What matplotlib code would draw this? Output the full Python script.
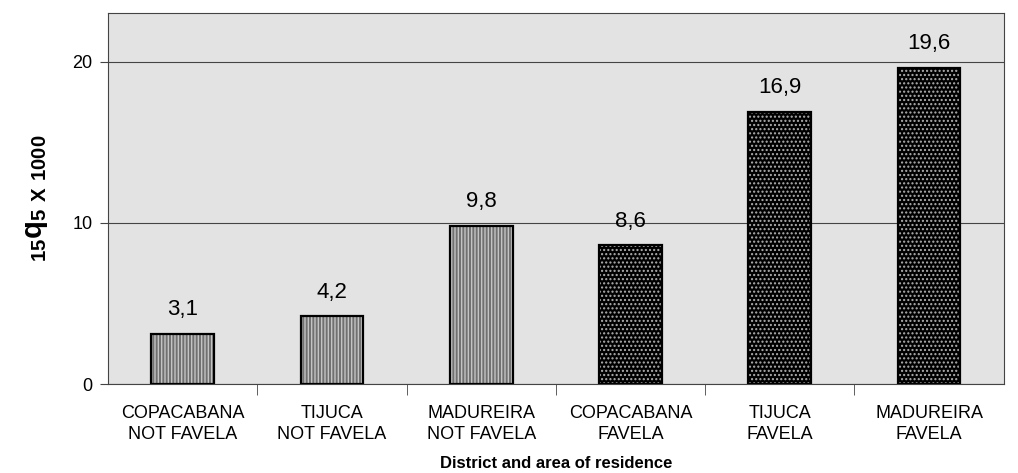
import matplotlib
matplotlib.use("Agg")
from matplotlib import pyplot as plt
import numpy as np

plt.rcParams['font.family'] = ['Liberation Sans', 'DejaVu Sans']
plt.rcParams['mathtext.fontset'] = 'custom'
plt.rcParams['mathtext.rm'] = 'Liberation Sans'
plt.rcParams['mathtext.bf'] = 'Liberation Sans:bold'

categories = ['COPACABANA\nNOT FAVELA', 'TIJUCA\nNOT FAVELA', 'MADUREIRA\nNOT FAVELA',
              'COPACABANA\nFAVELA', 'TIJUCA\nFAVELA', 'MADUREIRA\nFAVELA']
values = [3.1, 4.2, 9.8, 8.6, 16.9, 19.6]
favela = [False, False, False, True, True, True]

fig, ax = plt.subplots(figsize=(10.18, 4.73), dpi=100)
fig.subplots_adjust(left=0.106, right=0.986, top=0.972, bottom=0.188)
ax.set_facecolor('#e3e3e3')

x = np.arange(len(categories))
width = 0.42
for xi, v, fav in zip(x, values, favela):
    if fav:
        ax.bar(xi, v, width, color='black', hatch='....', edgecolor='#b0b0b0', linewidth=0, zorder=2)
    else:
        ax.bar(xi, v, width, color='#707070', hatch='|||||', edgecolor='#c4c4c4', linewidth=0, zorder=2)
    ax.bar(xi, v, width, fill=False, edgecolor='black', linewidth=1.6, zorder=3)
    ax.text(xi, v + 0.85, f"{v:.1f}".replace('.', ','), ha='center', va='bottom', fontsize=16)

ax.set_xlim(-0.5, len(categories) - 0.5)
ax.set_ylim(0, 23)
ax.set_yticks([0, 10, 20])
ax.yaxis.grid(True, color='#444444', linewidth=0.8, zorder=1)
ax.set_axisbelow(True)
ax.tick_params(axis='y', labelsize=13, length=6, pad=5, color='#444444')

ax.set_xticks(x)
ax.set_xticklabels(categories, fontsize=13, linespacing=1.35)
ax.tick_params(axis='x', length=0, pad=15)
ax.set_xticks(np.arange(0.5, len(categories) - 0.5, 1), minor=True)
ax.tick_params(axis='x', which='minor', length=8, direction='out', color='#444444')

for s in ax.spines.values():
    s.set_color('#444444')
    s.set_linewidth(0.8)

ax.set_ylabel(r'$\mathbf{{}_{15}q_{5}{}_{\ X\ 1000}}$', fontsize=21, labelpad=16)
ax.set_xlabel('District and area of residence', fontsize=12, fontweight='bold', labelpad=9)

fig.savefig('out.png', dpi=100)
